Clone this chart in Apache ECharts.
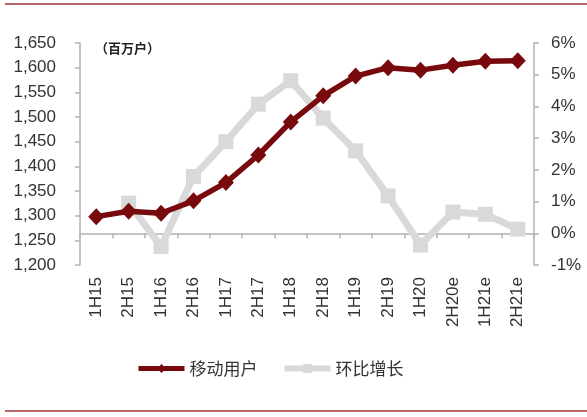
<!DOCTYPE html>
<html><head><meta charset="utf-8">
<script src="https://cdn.jsdelivr.net/npm/echarts@6/dist/echarts.min.js"></script>
<style>html,body{margin:0;padding:0;background:#fff}#c{width:587px;height:417px}</style>
</head><body><div id="c"></div>
<script>
var categories = ['1H15','2H15','1H16','2H16','1H17','2H17','1H18','2H18','1H19','2H19','1H20','2H20e','1H21e','2H21e'];
var users = [1298,1309,1305,1330,1367,1423,1490,1543,1583,1600,1595,1605,1613,1614];
var growth = [null,0.95,-0.42,1.79,2.89,4.07,4.81,3.63,2.6,1.18,-0.37,0.67,0.6,0.13];
var leftTicks = {min:1200,max:1650,interval:50};
var rightTicks = {min:-1,max:6,interval:1};
var names = ['移动用户','环比增长'];

var red = '#780a0e', gray = '#d9d9d9', axisC = '#b3b3b3';
var font = 'Liberation Sans';
var chart = echarts.init(document.getElementById('c'));
chart.setOption({
  animation:false,
  textStyle:{fontFamily:font},
  grid:{left:80,right:53,top:43,bottom:152,containLabel:false},
  title:{text:'（百万户）',left:90,top:37,textStyle:{fontFamily:'Noto Sans CJK SC',fontSize:13,fontWeight:'bold',color:'#222'}},
  legend:{top:355,left:131,itemWidth:46,itemHeight:11,itemGap:24,
    textStyle:{fontFamily:'Noto Sans CJK SC',fontSize:17,color:'#333'},
    data:[{name:names[0],lineStyle:{width:5}},{name:names[1],lineStyle:{width:6}}]},
  xAxis:{type:'category',data:categories,boundaryGap:true,
    axisLine:{lineStyle:{color:axisC,width:1.5}},
    axisTick:{show:true,length:5,lineStyle:{color:axisC,width:1.5}},
    axisLabel:{rotate:90,fontSize:17,color:'#333',margin:12,fontFamily:font,interval:0}},
  yAxis:[
    {type:'value',min:leftTicks.min,max:leftTicks.max,interval:leftTicks.interval,
     splitLine:{show:false},
     axisLine:{show:true,lineStyle:{color:axisC,width:1.5}},
     axisTick:{show:true,length:5,lineStyle:{color:axisC,width:1.5}},
     axisLabel:{fontSize:17,color:'#333',margin:24,fontFamily:font,
       formatter:function(v){return v.toLocaleString('en-US');}}},
    {type:'value',min:rightTicks.min,max:rightTicks.max,interval:rightTicks.interval,
     splitLine:{show:false},
     axisLine:{show:true,lineStyle:{color:axisC,width:1.5}},
     axisTick:{show:true,length:5,lineStyle:{color:axisC,width:1.5}},
     axisLabel:{fontSize:17,color:'#333',margin:17,fontFamily:font,align:'left',
       formatter:function(v){return v+'%';}}}
  ],
  series:[
    {name:names[1],type:'line',yAxisIndex:1,data:growth,symbol:'rect',symbolSize:15,
     lineStyle:{color:gray,width:7},itemStyle:{color:gray},z:2},
    {name:names[0],type:'line',yAxisIndex:0,data:users,symbol:'diamond',symbolSize:[16,17],
     lineStyle:{color:red,width:5.5},itemStyle:{color:red},z:3}
  ],
  graphic:[
    {type:'line',shape:{x1:5,y1:4,x2:587,y2:4},style:{stroke:'#a0383a',lineWidth:1.5}},
    {type:'line',shape:{x1:5,y1:411,x2:587,y2:411},style:{stroke:'#a0383a',lineWidth:1.5}}
  ]
});
</script></body></html>
